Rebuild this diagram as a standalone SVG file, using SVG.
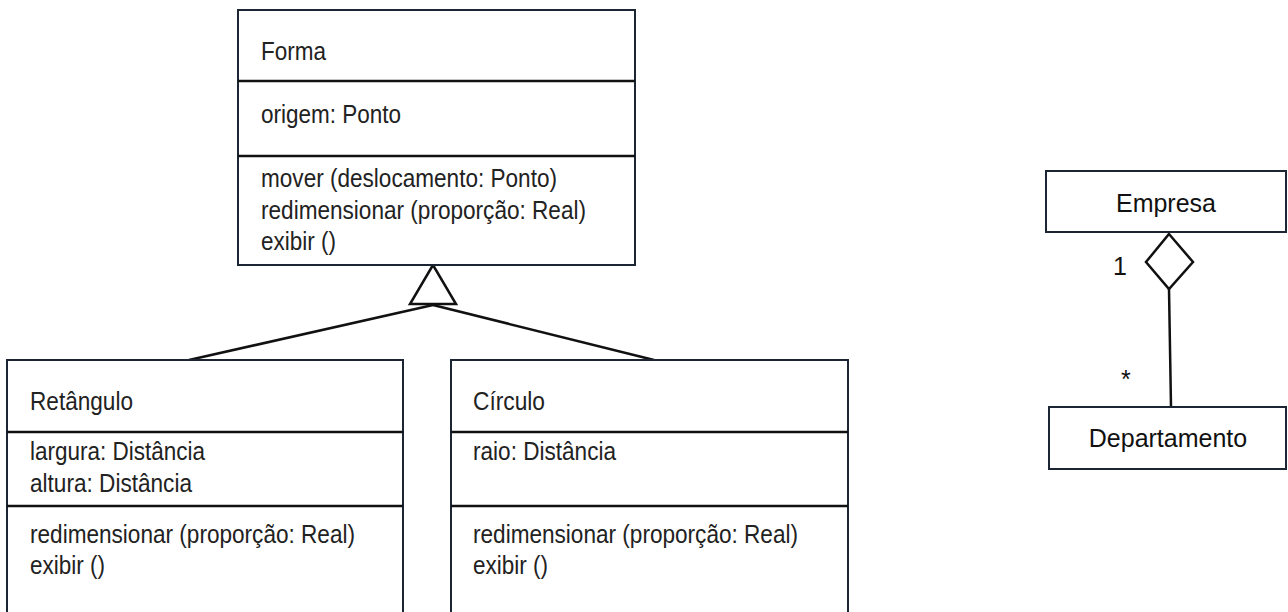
<svg xmlns="http://www.w3.org/2000/svg" width="1288" height="612" viewBox="0 0 1288 612">
<style>
.box{fill:#fff;stroke:#1c2533;stroke-width:2}
.div{stroke:#111;stroke-width:2.5}
.t{font-family:"Liberation Sans",Arial,sans-serif;font-size:25px;fill:#222}
.t2{font-family:"Liberation Sans",Arial,sans-serif;font-size:25px;fill:#111}
.ln{stroke:#111;stroke-width:2.5;fill:none}
</style>
<rect width="1288" height="612" fill="#fff"/>
<g id="connectors">
<line class="ln" x1="433" y1="305" x2="189" y2="360"/>
<line class="ln" x1="433" y1="305" x2="654" y2="360"/>
<polygon points="433,265 410,304 456,304" fill="#fff" stroke="#111" stroke-width="2.5"/>
<line class="ln" x1="1169" y1="289" x2="1171" y2="407"/>
<polygon points="1169,234 1193,262 1169,289 1146,262" fill="#fff" stroke="#111" stroke-width="2.5"/>
<text class="t2" x="1113" y="275">1</text>
<text class="t2" x="1121" y="388">*</text>
</g>
<g id="forma">
<rect class="box" x="238" y="10" width="397" height="255"/>
<line class="div" x1="238" y1="81" x2="635" y2="81"/>
<line class="div" x1="238" y1="156" x2="635" y2="156"/>
<text class="t" x="261" y="60" textLength="65" lengthAdjust="spacingAndGlyphs">Forma</text>
<text class="t" x="261" y="123" textLength="140" lengthAdjust="spacingAndGlyphs">origem: Ponto</text>
<text class="t" x="261" y="187" textLength="296" lengthAdjust="spacingAndGlyphs">mover (deslocamento: Ponto)</text>
<text class="t" x="261" y="219" textLength="325" lengthAdjust="spacingAndGlyphs">redimensionar (proporção: Real)</text>
<text class="t" x="261" y="250" textLength="75" lengthAdjust="spacingAndGlyphs">exibir ()</text>
</g>
<g id="retangulo">
<rect class="box" x="7" y="360" width="396" height="262"/>
<line class="div" x1="7" y1="432" x2="403" y2="432"/>
<line class="div" x1="7" y1="506" x2="403" y2="506"/>
<text class="t" x="30" y="410" textLength="103" lengthAdjust="spacingAndGlyphs">Retângulo</text>
<text class="t" x="30" y="460" textLength="175" lengthAdjust="spacingAndGlyphs">largura: Distância</text>
<text class="t" x="30" y="492" textLength="162" lengthAdjust="spacingAndGlyphs">altura: Distância</text>
<text class="t" x="30" y="543" textLength="325" lengthAdjust="spacingAndGlyphs">redimensionar (proporção: Real)</text>
<text class="t" x="30" y="574" textLength="75" lengthAdjust="spacingAndGlyphs">exibir ()</text>
</g>
<g id="circulo">
<rect class="box" x="451" y="360" width="397" height="262"/>
<line class="div" x1="451" y1="432" x2="848" y2="432"/>
<line class="div" x1="451" y1="506" x2="848" y2="506"/>
<text class="t" x="473" y="410" textLength="72" lengthAdjust="spacingAndGlyphs">Círculo</text>
<text class="t" x="473" y="460" textLength="143" lengthAdjust="spacingAndGlyphs">raio: Distância</text>
<text class="t" x="473" y="543" textLength="325" lengthAdjust="spacingAndGlyphs">redimensionar (proporção: Real)</text>
<text class="t" x="473" y="574" textLength="75" lengthAdjust="spacingAndGlyphs">exibir ()</text>
</g>
<g id="empresa">
<rect class="box" x="1046" y="171" width="240" height="61" stroke="#111"/>
<text class="t2" x="1166" y="212" text-anchor="middle">Empresa</text>
</g>
<g id="departamento">
<rect class="box" x="1049" y="407" width="237" height="62" stroke="#111"/>
<text class="t2" x="1168" y="447" text-anchor="middle">Departamento</text>
</g>
</svg>
